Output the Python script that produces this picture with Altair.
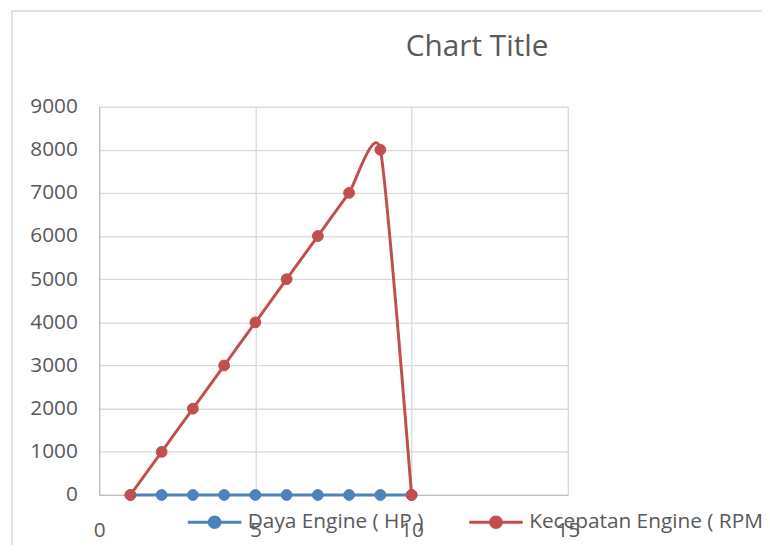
import altair as alt
import pandas as pd

# ---- data ----
x_vals = [1, 2, 3, 4, 5, 6, 7, 8, 9, 10]
daya_hp = [0, 0, 0, 0, 0, 0, 0, 0, 0, 0]
kecepatan_rpm = [0, 1000, 2000, 3000, 4000, 5000, 6000, 7000, 8000, 0]
series_names = ["Daya Engine ( HP )", "Kecepatan Engine ( RPM )"]
series_colors = ["#4F81BD", "#C0504D"]
x_ticks = [0, 5, 10, 15]
y_ticks = [0, 1000, 2000, 3000, 4000, 5000, 6000, 7000, 8000, 9000]

rows = []
for xv, v in zip(x_vals, daya_hp):
    rows.append({"x": xv, "y": v, "series": series_names[0]})
for xv, v in zip(x_vals, kecepatan_rpm):
    rows.append({"x": xv, "y": v, "series": series_names[1]})
df = pd.DataFrame(rows)

FONT = "Open Sans"
TXT = "#595959"
GRID = "#D9D9D9"

color_scale = alt.Scale(domain=series_names, range=series_colors)

legend = alt.Legend(
    title=None,
    orient="none",
    legendX=88,
    legendY=391,
    direction="horizontal",
    symbolType="M-1,0L1,0M-0.2,0A0.2,0.2,0,1,1,0.2,0A0.2,0.2,0,1,1,-0.2,0Z",
    symbolSize=2916,
    symbolStrokeWidth=3,
    labelFont=FONT,
    labelFontSize=21,
    labelColor=TXT,
    labelOffset=5,
    columnPadding=39,
    padding=0,
    labelLimit=500,
)

x_enc = alt.X(
    "x:Q",
    scale=alt.Scale(domain=[0, 15], nice=False),
    axis=alt.Axis(values=x_ticks, title=None, labelFlush=False, ticks=False,
                  labelPadding=25, format="d"),
)
y_enc = alt.Y(
    "y:Q",
    scale=alt.Scale(domain=[0, 9000], nice=False),
    axis=alt.Axis(values=y_ticks, title=None, ticks=False, labelPadding=22,
                  format="d"),
)

layers = []
for name in series_names:
    base = alt.Chart(df).transform_filter(alt.datum.series == name)
    line = base.mark_line(interpolate="cardinal", tension=0.45, strokeWidth=3).encode(
        x=x_enc,
        y=y_enc,
        stroke=alt.Stroke("series:N", scale=color_scale, legend=legend),
    )
    pts = base.mark_point(filled=True, size=120, strokeWidth=1, opacity=1).encode(
        x=x_enc,
        y=y_enc,
        fill=alt.Fill("series:N", scale=color_scale, legend=legend),
        stroke=alt.Stroke("series:N", scale=color_scale, legend=legend),
    )
    layers += [line, pts]

# chart-area border (decoration)
border_df = pd.DataFrame({"k": [0]})
top_border = alt.Chart(border_df).mark_rule(color=GRID, strokeWidth=1.5).encode(
    x=alt.value(-88), x2=alt.value(700), y=alt.value(-96.5)
)
left_border = alt.Chart(border_df).mark_rule(color=GRID, strokeWidth=1.5).encode(
    x=alt.value(-88), y=alt.value(-97), y2=alt.value(460)
)

chart = alt.layer(top_border, left_border, *layers).properties(
    width=473,
    height=392,
    autosize=alt.AutoSizeParams(type="none"),
    padding={"left": 92, "top": 97, "right": 196, "bottom": 48},
    title=alt.TitleParams(
        "Chart Title",
        font=FONT,
        fontSize=30,
        fontWeight="normal",
        color=TXT,
        anchor="middle",
        baseline="alphabetic",
        dx=145,
        dy=77,
        offset=0,
    ),
).configure_axis(
    labelFont=FONT,
    labelFontSize=21,
    labelColor=TXT,
    gridColor=GRID,
    gridWidth=1.3,
    domainColor="#BFBFBF",
    domainWidth=1.3,
).configure_view(strokeWidth=0)

chart.save("out.html", embed_options={"renderer": "svg", "actions": False})
